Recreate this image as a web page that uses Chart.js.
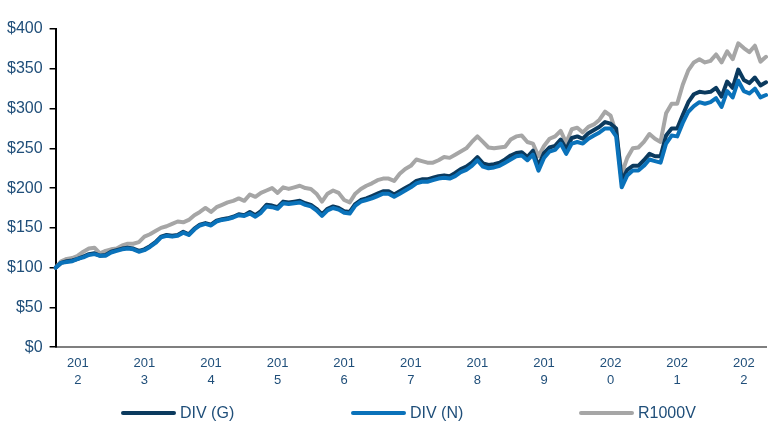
<!DOCTYPE html>
<html>
<head>
<meta charset="utf-8">
<script src="https://cdn.jsdelivr.net/npm/chart.js@4"></script>
<style>
  html, body { margin: 0; padding: 0; background: #fff; }
  #wrap { position: relative; width: 768px; height: 428px; overflow: hidden; }
  #plot { position: absolute; left: 0; top: 0; width: 774px; height: 428px; }
  #legend { position: absolute; left: 0; top: 402px; width: 768px; height: 22px;
            font-family: "Liberation Sans", Arial, sans-serif; font-size: 16px; color: #1f4e79; }
  .item { position: absolute; top: 0; height: 22px; line-height: 22px; white-space: nowrap; }
  .swatch { display: inline-block; width: 55px; height: 4px; border-radius: 2px;
            vertical-align: middle; margin-right: 4px; position: relative; top: -1px; }
</style>
</head>
<body>
<div id="wrap">
  <div id="plot"><canvas id="growthChart"></canvas></div>
  <div id="legend"></div>
</div>
<script>
// growth of $100, monthly, Sep 2011 .. May 2022
const startYear = 2011, startMonth = 8; // Sep 2011 (0-based month)
const monthNames = ["Jan","Feb","Mar","Apr","May","Jun","Jul","Aug","Sep","Oct","Nov","Dec"];

const divG = [100,106,108,109,111,114,117,118,115,116,120,122,124,125,124,121,123,127,132,139,
  141,140,141,145,142,149,154,156,154,159,161,162,164,167,166,170,166,171,179,178,
  176,183,182,183,184,181,179,174,167,174,177,175,171,170,180,185,187,190,193,196,
  196,192,196,200,204,209,211,211,213,215,216,215,219,224,227,232,239,231,229,230,
  232,236,241,244,245,239,247,228,244,251,253,261,249,263,265,262,269,273,277,283,
  281,275,209,223,228,228,235,243,240,240,266,275,275,292,308,318,321,320,321,326,
  315,334,326,349,336,332,339,329,333];

const divN = [100,106,107,108,111,113,116,117,115,115,119,121,123,124,123,120,122,126,131,138,
  140,139,140,144,141,148,153,155,153,158,160,161,163,166,165,168,164,169,177,176,
  174,181,180,181,182,179,177,172,165,172,175,173,169,168,178,183,185,187,190,193,
  193,189,193,197,201,206,208,208,210,212,213,212,215,220,223,228,235,227,225,226,
  228,232,236,240,241,235,242,222,238,246,248,256,243,256,258,256,262,266,270,275,
  275,265,201,216,222,222,228,236,234,232,256,266,265,282,296,303,308,306,308,313,
  302,322,314,335,322,319,325,314,317];

const r1000v = [100,108,111,112,115,120,124,125,118,121,123,124,128,130,130,132,139,142,146,150,
  152,155,158,157,160,166,170,175,170,176,179,182,184,187,184,192,189,194,197,200,
  194,201,199,201,203,200,199,193,183,193,197,194,185,182,193,199,203,206,210,212,
  212,209,218,224,228,236,234,232,232,235,239,238,242,246,250,258,265,258,251,250,
  251,252,261,265,266,258,256,240,253,262,265,272,257,274,276,270,277,280,286,296,
  291,269,218,238,250,251,258,268,262,258,294,306,306,330,348,358,362,358,360,368,
  358,372,362,382,376,371,379,359,365];

const seriesNames = ["DIV (G)", "DIV (N)", "R1000V"];
const seriesColors = ["#0b3a5e", "#0a72ba", "#a6a6a6"];
const yTicks = [0, 50, 100, 150, 200, 250, 300, 350, 400];

const months = divG.map((_, i) => {
  const m = (startMonth + i) % 12;
  const y = startYear + Math.floor((startMonth + i) / 12);
  return monthNames[m] + " " + y;
});

const textColor = "#1f4e79";
const font = "'Liberation Sans', Arial, sans-serif";

const ctx = document.getElementById("growthChart").getContext("2d");
new Chart(ctx, {
  type: "line",
  data: {
    labels: months,
    datasets: [
      { label: seriesNames[0], data: divG, borderColor: seriesColors[0], backgroundColor: seriesColors[0], order: 1 },
      { label: seriesNames[1], data: divN, borderColor: seriesColors[1], backgroundColor: seriesColors[1], order: 0 },
      { label: seriesNames[2], data: r1000v, borderColor: seriesColors[2], backgroundColor: seriesColors[2], order: 2 }
    ].map(ds => Object.assign(ds, { borderWidth: 4, pointRadius: 0, tension: 0, fill: false,
                                     borderJoinStyle: "round", borderCapStyle: "round" }))
  },
  options: {
    responsive: true,
    maintainAspectRatio: false,
    animation: false,
    layout: { padding: { left: 0, right: 0, top: 29, bottom: 31 } },
    plugins: { legend: { display: false }, tooltip: { enabled: false } },
    scales: {
      x: {
        type: "category",
        offset: false,
        grid: { display: false, drawTicks: false },
        border: { display: true, color: "#7f7f7f", width: 2 },
        ticks: {
          autoSkip: false, maxRotation: 0, minRotation: 0, padding: 8,
          color: textColor, font: { family: font, size: 13, lineHeight: 1.3 },
          callback: function (val, i) {
            const lab = months[i];
            if (lab.startsWith("Jan")) {
              const yr = lab.slice(4);
              return [yr.slice(0, 3), yr.slice(3)];
            }
            return "";
          }
        }
      },
      y: {
        min: 0, max: 400,
        afterBuildTicks: axis => { axis.ticks = yTicks.map(v => ({ value: v })); },
        grid: { display: true, drawOnChartArea: false, drawTicks: true, tickLength: 6, color: "#000", lineWidth: 1.5 },
        border: { display: true, color: "#000", width: 2 },
        ticks: {
          padding: 7, color: textColor, font: { family: font, size: 16 },
          callback: v => "$" + v
        }
      }
    }
  }
});

// legend (bottom row, fixed positions like the original)
const legendLeft = [121, 351, 579];
const legendEl = document.getElementById("legend");
seriesNames.forEach((name, i) => {
  const item = document.createElement("div");
  item.className = "item";
  item.style.left = legendLeft[i] + "px";
  item.innerHTML = '<span class="swatch" style="background:' + seriesColors[i] + '"></span>' + name;
  legendEl.appendChild(item);
});
</script>
</body>
</html>
